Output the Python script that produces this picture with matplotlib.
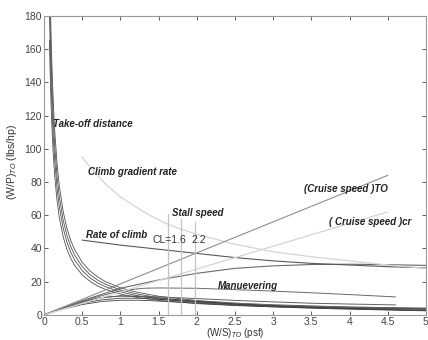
import matplotlib
matplotlib.use('Agg')
import matplotlib.pyplot as plt
import numpy as np

plt.rcParams['font.family'] = ['Liberation Sans', 'DejaVu Sans']
plt.rcParams['mathtext.fontset'] = 'custom'
plt.rcParams['mathtext.rm'] = 'Liberation Sans'

# take-off distance curves (4)
x_to = [0.07, 0.08, 0.09, 0.1, 0.12, 0.14, 0.17, 0.2, 0.25, 0.3, 0.35, 0.4, 0.5, 0.6, 0.7, 0.8,
        1.0, 1.2, 1.5, 2.0, 2.5, 3.0, 3.5, 4.0, 4.5, 5.0]
to_1 = [165.3, 144.8, 128.8, 116, 96.8, 83.1, 68.6, 58.5, 47, 39.3, 33.9, 29.8, 24, 20.2, 17.4, 15.4,
        12.5, 10.6, 8.7, 6.75, 5.6, 4.8, 4.3, 3.9, 3.6, 3.3]
to_2 = [183.9, 161, 143.2, 129, 107.7, 92.4, 76.3, 65, 52.2, 43.7, 37.6, 33, 26.6, 22.3, 19.3, 17,
        13.8, 11.7, 9.5, 7.4, 6.1, 5.3, 4.7, 4.2, 3.8, 3.6]
to_3 = [201, 176, 156.6, 141, 117.7, 101, 83.4, 71, 57, 47.7, 41, 36, 29, 24.3, 21, 18.5,
        15, 12.7, 10.3, 8, 6.6, 5.7, 5, 4.5, 4.1, 3.8]
to_4 = [219.6, 192.3, 171, 154, 128.5, 110.3, 91, 77.5, 62.2, 52, 44.7, 39.3, 31.6, 26.5, 22.9, 20.1,
        16.3, 13.8, 11.2, 8.65, 7.1, 6.1, 5.4, 4.8, 4.4, 4.1]

# low hump curves
x_h = [0, 0.25, 0.5, 0.75, 1, 1.25, 1.5, 2, 2.5, 3, 3.5, 4, 4.5, 5]
h_1 = [0, 4, 7, 9, 10, 10, 9.3, 7.8, 6.4, 5.3, 4.4, 3.7, 3.1, 2.6]
h_2 = [0, 4.5, 8, 10.5, 11.3, 11, 10, 8.2, 6.6, 5.4, 4.5, 3.8, 3.2, 2.8]
h_3 = [0, 3.5, 6.2, 8, 8.8, 8.8, 8.3, 7, 5.8, 4.8, 4, 3.4, 2.9, 2.4]

x_e = [0, 0.25, 0.5, 0.75, 1.0, 1.5, 2, 2.5, 3, 3.5, 4, 4.6]
y_e = [0, 4.2, 7.6, 10.2, 11.5, 10.8, 9.8, 8.7, 7.8, 7, 6.5, 6]

x_man = [0, 0.25, 0.5, 0.75, 1.0, 1.3, 1.5, 2, 2.5, 3, 3.5, 4, 4.6]
y_man = [0, 4.5, 8, 11.5, 14.5, 16, 16.2, 16, 15.2, 14.3, 13.3, 12.2, 10.8]

x_c = [0, 0.5, 1, 1.5, 2, 2.5, 3, 3.5, 4, 4.5, 5]
y_c = [0, 8.5, 16, 21, 25, 28, 29.5, 30.3, 30.5, 30.2, 29.8]

x_roc = [0.5, 1, 1.5, 2, 2.5, 3, 3.5, 4, 4.5, 5]
y_roc = [45, 42, 39.5, 37, 34.5, 32.5, 31, 30, 29, 28.3]

x_cg = [0.5, 0.6, 0.8, 1.0, 1.2, 1.4, 1.6, 1.8, 2.0, 2.5, 3.0, 3.5, 4.0, 4.5, 5.0]
y_cg = [95, 89, 79, 71, 65, 59.5, 55, 51.5, 48.5, 42.5, 38, 35, 32.5, 30, 28]

x_cr = [0, 4.5]
y_cruise_to = [0, 84]
y_cruise_cr = [0, 62]

stall_x = [1.62, 1.79, 1.97]
stall_top = [60.5, 57.5, 56]

fig = plt.figure(figsize=(4.28, 3.40), dpi=100)
ax = fig.add_axes([0.103, 0.074, 0.892, 0.879])

for y in [to_1, to_2, to_3, to_4]:
    ax.plot(x_to, y, color='#505050', lw=0.6)
for y in [h_1, h_2, h_3]:
    ax.plot(x_h, y, color='#404040', lw=0.6)
ax.plot(x_e, y_e, color='#606060', lw=0.7)
ax.plot(x_man, y_man, color='#6a6a6a', lw=0.7)
ax.plot(x_c, y_c, color='#6a6a6a', lw=0.8)
ax.plot(x_roc, y_roc, color='#5a5a5a', lw=0.8)
ax.plot(x_cg, y_cg, color='#d4d4d4', lw=0.9)
ax.plot(x_cr, y_cruise_to, color='#8e8e8e', lw=0.8)
ax.plot(x_cr, y_cruise_cr, color='#d4d4d4', lw=0.9)
for sx, st in zip(stall_x, stall_top):
    ax.plot([sx, sx], [0, st], color='#c4c4c4', lw=0.9)

lab = dict(fontsize=7, fontweight='bold', fontstyle='italic', color='#222222')
ax.text(0.12, 113, 'Take-off distance', **lab)
ax.text(0.57, 84, 'Climb gradient rate', **lab)
ax.text(1.68, 59.5, 'Stall speed', **lab)
ax.text(0.55, 46, 'Rate of climb', **lab)
ax.text(3.4, 73.7, '(Cruise speed )TO', **lab)
ax.text(3.73, 54, '( Cruise speed )cr', **lab)
ax.text(2.27, 15.4, 'Manuevering', **lab)
ax.text(1.42, 43.5, 'CL=1.6', fontsize=7.5, color='#333333')
ax.text(1.93, 43.5, '2.2', fontsize=7.5, color='#333333')

ax.set_xlim(0, 5)
ax.set_ylim(0, 180)
ax.set_xticks(np.arange(0, 5.01, 0.5))
ax.set_xticklabels(['0', '0.5', '1', '1.5', '2', '2.5', '3', '3.5', '4', '4.5', '5'])
ax.set_yticks(np.arange(0, 181, 20))
ax.tick_params(direction='in', top=True, right=True, labelsize=7.5, colors='#444444',
               length=3, width=0.6, pad=1.5)
for s in ax.spines.values():
    s.set_color('#999999')
    s.set_linewidth(0.8)

fig.text(12 / 428, 1 - 162 / 340, '(W/P)$_{TO}$ (lbs/hp)', rotation=90, fontsize=7.5,
         color='#333333', ha='center', va='center')
fig.text(235 / 428, 0.0, '(W/S)$_{TO}$ (psf)', fontsize=7, color='#333333',
         ha='center', va='bottom')

fig.savefig('out.png', dpi=100)
